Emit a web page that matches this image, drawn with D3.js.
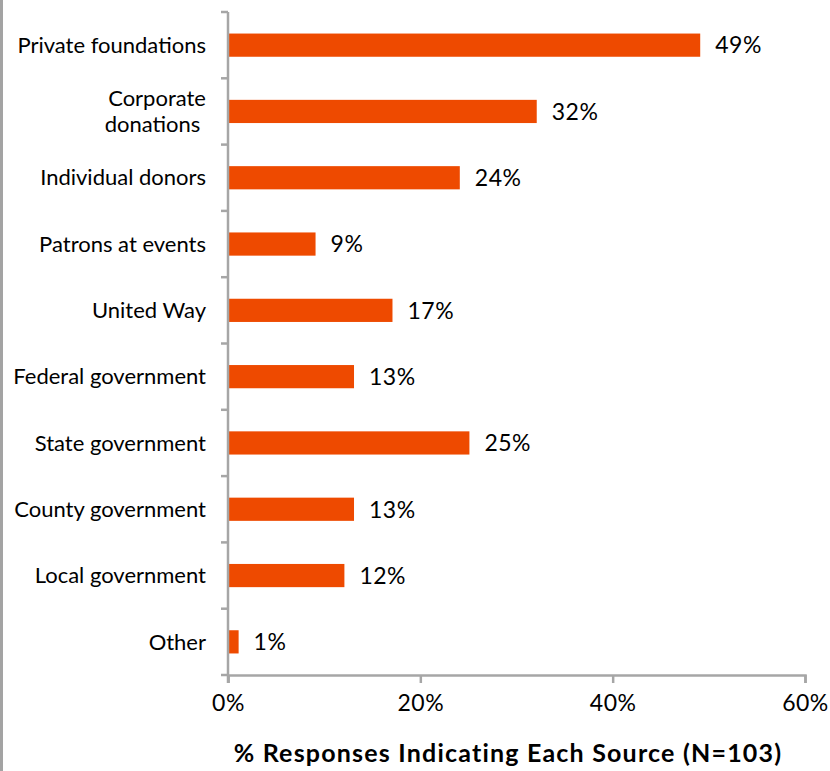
<!DOCTYPE html>
<html>
<head>
<meta charset="utf-8">
<script src="https://cdn.jsdelivr.net/npm/d3@7"></script>
<style>
  html, body { margin: 0; padding: 0; background: #fff; }
  svg { display: block; font-family: "Lato", "Open Sans", sans-serif; }
</style>
</head>
<body>
<svg id="chart" width="830" height="771"></svg>
<script>
// Funding sources reported by respondents
const categories = [
  "Private foundations",
  "Corporate\ndonations\u00a0",
  "Individual donors",
  "Patrons at events",
  "United Way",
  "Federal government",
  "State government",
  "County government",
  "Local government",
  "Other"
];
const values = [49, 32, 24, 9, 17, 13, 25, 13, 12, 1];
const xTicks = [0, 20, 40, 60];
const axisTitle = "% Responses Indicating Each Source (N=103)";

const W = 830, H = 771;
const margin = { top: 12, right: 25, bottom: 96, left: 228 };
const svg = d3.select("#chart");
const axisColor = "#a6a6a6";
const barColor = "#ee4a00";

// frame edge on the left
svg.append("rect").attr("x", 0).attr("y", 0).attr("width", 3).attr("height", H).attr("fill", "#a3a3a3");

const x = d3.scaleLinear().domain([0, 60]).range([margin.left, W - margin.right]);
const y = d3.scaleBand().domain(d3.range(categories.length))
  .range([margin.top, H - margin.bottom]).paddingInner(0.65).paddingOuter(0.325);
const yb = d3.scaleBand().domain(d3.range(categories.length))
  .range([margin.top, H - margin.bottom]);

// bars
svg.append("g").selectAll("rect").data(values).join("rect")
  .attr("x", x(0) + 1)
  .attr("y", (d, i) => y(i))
  .attr("width", d => x(d) - x(0))
  .attr("height", y.bandwidth())
  .attr("fill", barColor);

// value labels
svg.append("g").selectAll("text").data(values).join("text")
  .attr("x", d => x(d) + 16)
  .attr("y", (d, i) => y(i) + y.bandwidth() / 2)
  .attr("dy", "0.36em")
  .attr("font-size", 23)
  .attr("letter-spacing", 0.5)
  .attr("fill", "#000")
  .text(d => d + "%");

// y axis: line with ticks at band boundaries
const gy = svg.append("g");
gy.append("line").attr("x1", x(0)).attr("x2", x(0))
  .attr("y1", margin.top).attr("y2", H - margin.bottom + 8)
  .attr("stroke", axisColor).attr("stroke-width", 2.5);
const bounds = d3.range(categories.length + 1).map(i => i < categories.length ? yb(i) : yb(i - 1) + yb.bandwidth());
gy.selectAll("line.tick").data(bounds).join("line").attr("class", "tick")
  .attr("x1", x(0) - 7).attr("x2", x(0))
  .attr("y1", d => d).attr("y2", d => d)
  .attr("stroke", axisColor).attr("stroke-width", 2.5);

// category labels
gy.selectAll("text").data(categories).join("text")
  .attr("x", x(0) - 22)
  .attr("y", (d, i) => yb(i) + yb.bandwidth() / 2)
  .attr("text-anchor", "end")
  .attr("font-size", 22)
  .attr("fill", "#000")
  .style("white-space", "pre")
  .each(function(d) {
    const lines = d.split("\n");
    const t = d3.select(this);
    lines.forEach((ln, k) => {
      t.append("tspan")
        .attr("x", x(0) - 22)
        .attr("dy", k === 0 ? (0.35 - (lines.length - 1) * 0.6) + "em" : "1.2em")
        .text(ln);
    });
  });

// x axis
const gx = svg.append("g").attr("transform", `translate(0,${H - margin.bottom})`)
  .call(d3.axisBottom(x).tickValues(xTicks).tickFormat(d => d + "%").tickSize(8).tickPadding(12));
gx.select(".domain").attr("stroke", axisColor).attr("stroke-width", 2.5);
gx.selectAll(".tick line").attr("stroke", axisColor).attr("stroke-width", 2.5);
gx.selectAll(".tick text").attr("font-size", 23).attr("fill", "#000")
  .attr("letter-spacing", 0.5)
  .attr("font-family", "Lato, 'Open Sans', sans-serif");

// axis title
svg.append("text")
  .attr("x", 508)
  .attr("y", 762)
  .attr("text-anchor", "middle")
  .attr("font-size", 25)
  .attr("font-weight", "bold")
  .attr("letter-spacing", 1.2)
  .attr("fill", "#000")
  .text(axisTitle);
</script>
</body>
</html>
